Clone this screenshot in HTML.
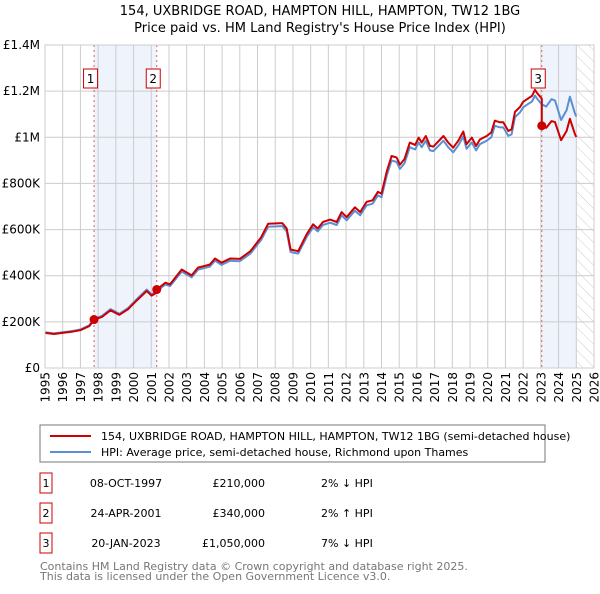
<!DOCTYPE html>
<html><head><meta charset="utf-8"><style>
body{margin:0;background:#fff;font-family:"DejaVu Sans","Liberation Sans",sans-serif;}
svg text{font-family:"DejaVu Sans","Liberation Sans",sans-serif;}
</style></head><body>
<svg id="chart" width="600" height="590" xmlns="http://www.w3.org/2000/svg">
<defs><pattern id="hatch" width="8" height="8" patternUnits="userSpaceOnUse" patternTransform="rotate(-45)"><line x1="0" y1="0" x2="0" y2="8" stroke="#ccc" stroke-width="1"/></pattern></defs>
<text x="320" y="15" text-anchor="middle" font-size="13">154, UXBRIDGE ROAD, HAMPTON HILL, HAMPTON, TW12 1BG</text>
<text x="320" y="32" text-anchor="middle" font-size="13">Price paid vs. HM Land Registry's House Price Index (HPI)</text>
<g id="bg"></g><g id="grid"></g><g id="marks"></g><g id="axes"></g>
<rect x="40" y="425" width="505" height="37" fill="#fff" stroke="#777"/>
<line x1="50" y1="436" x2="91" y2="436" stroke="#cc0000" stroke-width="2"/>
<text x="101" y="440" font-size="11">154, UXBRIDGE ROAD, HAMPTON HILL, HAMPTON, TW12 1BG (semi-detached house)</text>
<line x1="50" y1="452" x2="91" y2="452" stroke="#5b8fd4" stroke-width="2"/>
<text x="101" y="456" font-size="11">HPI: Average price, semi-detached house, Richmond upon Thames</text>
<g id="table" font-size="11"></g>
<text x="40" y="570" font-size="11" fill="#777">Contains HM Land Registry data © Crown copyright and database right 2025.</text>
<text x="40" y="580" font-size="11" fill="#777">This data is licensed under the Open Government Licence v3.0.</text>
</svg>
<script>
const hpiYears=[1995.0,1995.5,1996.0,1996.5,1997.0,1997.5,1997.77,1998.2,1998.7,1999.2,1999.7,2000.2,2000.74,2001.02,2001.31,2001.8,2002.06,2002.72,2003.28,2003.64,2004.3,2004.6,2004.97,2005.45,2006.0,2006.6,2007.2,2007.6,2008.4,2008.65,2008.87,2009.3,2009.78,2010.14,2010.4,2010.7,2011.1,2011.47,2011.75,2012.03,2012.5,2012.8,2013.16,2013.5,2013.8,2014.0,2014.3,2014.57,2014.86,2015.04,2015.3,2015.6,2015.9,2016.1,2016.27,2016.5,2016.74,2016.93,2017.5,2017.77,2018.05,2018.34,2018.62,2018.8,2019.1,2019.34,2019.56,2019.94,2020.2,2020.4,2020.7,2020.88,2021.16,2021.35,2021.54,2021.82,2022.0,2022.29,2022.5,2022.67,2022.8,2023.05,2023.3,2023.6,2023.8,2024.14,2024.45,2024.64,2024.92,2025.0];
const hpiValues=[155,150,155,160,167,185,214,225,255,235,260,300,340,320,333,362,355,418,393,426,439,465,447,465,463,496,555,612,615,592,503,496,568,610,592,620,630,620,662,640,682,662,705,712,748,740,835,900,893,863,887,957,947,978,957,985,943,940,985,957,935,965,1004,950,978,943,970,985,1000,1050,1043,1043,1006,1013,1087,1108,1130,1145,1155,1181,1166,1143,1133,1165,1160,1075,1118,1176,1104,1090];
const saleYears=[1997.77,2001.31,2023.05];
const salePrices=[210,340,1050];
const saleLabels=["1","2","3"];
const saleDates=["08-OCT-1997","24-APR-2001","20-JAN-2023"];
const saleText=["£210,000","£340,000","£1,050,000"];
const saleDiff=["2% ↓ HPI","2% ↑ HPI","7% ↓ HPI"];
const yTicks=[0,200,400,600,800,1000,1200,1400];
const yTickLabels=["£0","£200K","£400K","£600K","£800K","£1M","£1.2M","£1.4M"];
const xTicks=[];for(let y=1995;y<=2026;y++)xTicks.push(y);
const dataEnd=2025.04;

const NS="http://www.w3.org/2000/svg";
const X0=45,X1=594,Y0=368,Y1=45;
const xs=y=>X0+(y-1995)/(2026-1995)*(X1-X0);
const ys=v=>Y0-v/1400*(Y0-Y1);
function mk(tag,attrs,parent){const e=document.createElementNS(NS,tag);for(const k in attrs)e.setAttribute(k,attrs[k]);document.getElementById(parent).appendChild(e);return e;}
function hpiAt(t){for(let i=1;i<hpiYears.length;i++){if(t<=hpiYears[i]){const a=hpiYears[i-1],b=hpiYears[i];return hpiValues[i-1]+(hpiValues[i]-hpiValues[i-1])*(t-a)/(b-a);}}return hpiValues[hpiValues.length-1];}

let e=mk('rect',{x:xs(saleYears[0]),y:Y1,width:xs(saleYears[1])-xs(saleYears[0]),height:Y0-Y1,fill:'#eef3fc'},'bg');

e=mk('rect',{x:xs(saleYears[2]),y:Y1,width:xs(dataEnd)-xs(saleYears[2]),height:Y0-Y1,fill:'#eef3fc'},'bg');

e=mk('rect',{x:xs(dataEnd),y:Y1,width:X1-xs(dataEnd),height:Y0-Y1,fill:'url(#hatch)'},'bg');


yTicks.forEach((v,i)=>{
 const l=mk('line',{x1:X0,x2:X1,y1:ys(v),y2:ys(v),stroke:'#ccc'},'grid');
 
 const t=mk('text',{x:40,y:ys(v)+4,'text-anchor':'end','font-size':12},'axes');t.textContent=yTickLabels[i];
 
});
xTicks.forEach(y=>{
 const l=mk('line',{x1:xs(y),x2:xs(y),y1:Y1,y2:Y0,stroke:'#ccc'},'grid');
 
 const x=xs(y);
 const t=mk('text',{x:x+4.5,y:372,'text-anchor':'end','font-size':12,transform:'rotate(-90 '+(x+4.5)+' 372)'},'axes');t.textContent=y;
 
});

saleYears.forEach((s,i)=>{
 const l=mk('line',{x1:xs(s),x2:xs(s),y1:Y1,y2:Y0,stroke:'#e06060','stroke-dasharray':'2,3'},'grid');
 
 const bx=xs(s)-3.5;
 const r=mk('rect',{x:bx-7,y:69,width:14,height:19,fill:'#fff',stroke:'#cc0000'},'axes');
 
 const t=mk('text',{x:bx,y:83,'text-anchor':'middle','font-size':12},'axes');t.textContent=saleLabels[i];
 
});

const hp=hpiYears.map((y,i)=>xs(y).toFixed(1)+','+ys(hpiValues[i]).toFixed(1)).join(' ');
e=mk('polyline',{points:hp,fill:'none',stroke:'#5b8fd4','stroke-width':2,'stroke-linejoin':'round'},'marks');


const factors=saleYears.map((s,i)=>salePrices[i]/hpiAt(s));
function factorAt(t){let k=0;for(let i=0;i<saleYears.length;i++)if(t>=saleYears[i])k=i;return factors[k];}
const pts=[];
hpiYears.forEach((y,i)=>{
 saleYears.forEach((s,j)=>{if(j>0&&i>0&&s>hpiYears[i-1]&&s<=y){pts.push([s,hpiAt(s)*factors[j-1]]);pts.push([s,salePrices[j]]);}});
 pts.push([y,hpiValues[i]*factorAt(y)]);
});
e=mk('polyline',{points:pts.map(p=>xs(p[0]).toFixed(1)+','+ys(p[1]).toFixed(1)).join(' '),fill:'none',stroke:'#cc0000','stroke-width':2,'stroke-linejoin':'round'},'marks');

saleYears.forEach((s,i)=>{
 const c=mk('circle',{cx:xs(s),cy:ys(salePrices[i]),r:4.5,fill:'#cc0000'},'marks');
 
});
e=mk('rect',{x:X0,y:Y1,width:X1-X0,height:Y0-Y1,fill:'none',stroke:'#ccc'},'axes');


saleYears.forEach((s,i)=>{
 const y=483+i*30;
 const r=mk('rect',{x:40,y:y-10,width:12,height:20,fill:'#fff',stroke:'#cc0000'},'table');
 
 let t=mk('text',{x:46,y:y+4,'text-anchor':'middle'},'table');t.textContent=saleLabels[i];
 
 t=mk('text',{x:126,y:y+4,'text-anchor':'middle'},'table');t.textContent=saleDates[i];
 
 t=mk('text',{x:265,y:y+4,'text-anchor':'end'},'table');t.textContent=saleText[i];
 
 t=mk('text',{x:321,y:y+4},'table');t.textContent=saleDiff[i];
 
});
</script>
</body></html>
